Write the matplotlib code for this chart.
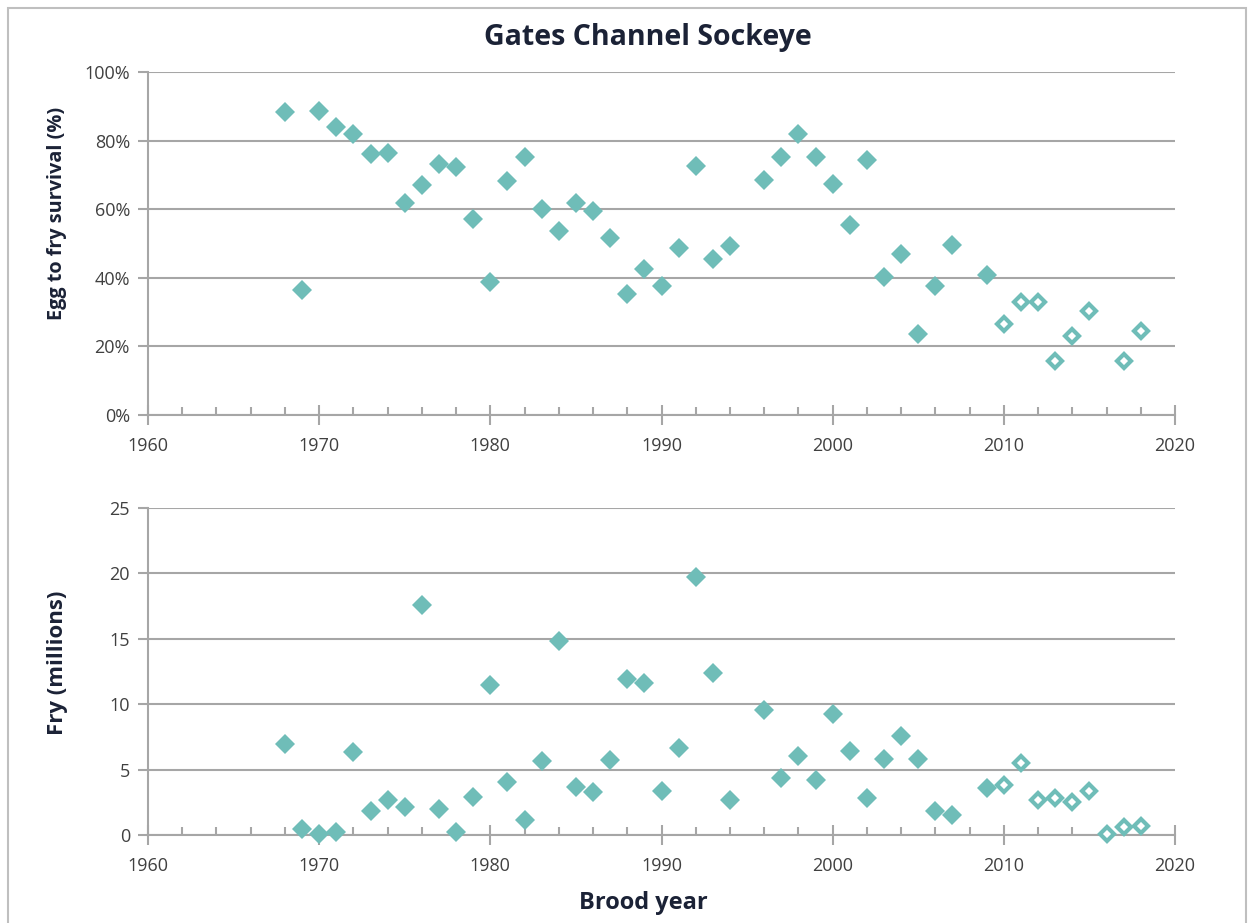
import matplotlib
matplotlib.use("Agg")
import matplotlib.pyplot as plt
from matplotlib.ticker import MultipleLocator, FuncFormatter
from matplotlib.patches import Rectangle

# ---- data ----
years_surv = [1968, 1969, 1970, 1971, 1972, 1973, 1974, 1975, 1976, 1977, 1978, 1979,
              1980, 1981, 1982, 1983, 1984, 1985, 1986, 1987, 1988, 1989, 1990, 1991,
              1992, 1993, 1994, 1996, 1997, 1998, 1999, 2000, 2001, 2002, 2003, 2004,
              2005, 2006, 2007, 2009]
surv = [88.3, 36.4, 88.6, 84.0, 82.0, 76.0, 76.5, 61.8, 67.0, 73.2, 72.3, 57.0,
        38.8, 68.2, 75.2, 60.0, 53.6, 61.8, 59.5, 51.5, 35.3, 42.6, 37.6, 48.7,
        72.6, 45.5, 49.3, 68.5, 75.2, 82.0, 75.2, 67.3, 55.4, 74.3, 40.2, 46.9,
        23.6, 37.6, 49.6, 40.8]
years_surv_open = [2010, 2011, 2012, 2013, 2014, 2015, 2017, 2018]
surv_open = [26.5, 32.9, 32.9, 15.7, 23.0, 30.3, 15.7, 24.5]

years_fry = [1968, 1969, 1970, 1971, 1972, 1973, 1974, 1975, 1976, 1977, 1978, 1979,
             1980, 1981, 1982, 1983, 1984, 1985, 1986, 1987, 1988, 1989, 1990, 1991,
             1992, 1993, 1994, 1996, 1997, 1998, 1999, 2000, 2001, 2002, 2003, 2004,
             2005, 2006, 2007, 2009]
fry = [6.95, 0.45, 0.1, 0.25, 6.35, 1.8, 2.65, 2.15, 17.6, 1.95, 0.2, 2.9,
       11.5, 4.05, 1.15, 5.65, 14.8, 3.65, 3.3, 5.7, 11.95, 11.65, 3.35, 6.65,
       19.7, 12.4, 2.7, 9.55, 4.35, 6.05, 4.2, 9.25, 6.4, 2.8, 5.8, 7.6,
       5.8, 1.85, 1.55, 3.6]
years_fry_open = [2010, 2011, 2012, 2013, 2014, 2015, 2016, 2017, 2018]
fry_open = [3.8, 5.5, 2.7, 2.8, 2.5, 3.35, 0.1, 0.6, 0.7]

title = "Gates Channel Sockeye"
ylabel_top = "Egg to fry survival (%)"
ylabel_bot = "Fry (millions)"
xlabel = "Brood year"

# ---- style ----
TEAL = "#6fbdb8"
GRID = "#a6a6a6"
DARK = "#1b2236"
TICKC = "#404040"
plt.rcParams['font.family'] = ['Open Sans', 'DejaVu Sans']

fig = plt.figure(figsize=(12.5, 9.23), dpi=100)
W, H = 1250, 923

def ax_rect(l, t, r, b):
    return [l / W, 1 - b / H, (r - l) / W, (b - t) / H]

ax1 = fig.add_axes(ax_rect(148, 72, 1175, 415))
ax2 = fig.add_axes(ax_rect(148, 508, 1175, 835))

def style(ax, ymax, ystep, fmt):
    ax.set_xlim(1960, 2020)
    ax.set_ylim(0, ymax)
    ax.yaxis.set_major_locator(MultipleLocator(ystep))
    ax.yaxis.set_major_formatter(FuncFormatter(fmt))
    ax.xaxis.set_major_locator(MultipleLocator(10))
    ax.xaxis.set_minor_locator(MultipleLocator(2))
    for s in ['top', 'right']:
        ax.spines[s].set_visible(False)
    for s in ['left', 'bottom']:
        ax.spines[s].set_color(GRID)
        ax.spines[s].set_linewidth(1.5)
    ax.grid(axis='y', color=GRID, linewidth=1.5)
    ax.set_axisbelow(True)
    ax.tick_params(axis='y', direction='out', length=7, width=1.5, color=GRID,
                   labelsize=13, labelcolor=TICKC, pad=6)
    ax.tick_params(axis='x', which='major', direction='inout', length=14, width=1.5,
                   color=GRID, labelsize=13, labelcolor=TICKC, pad=9)
    ax.tick_params(axis='x', which='minor', direction='in', length=6, width=1.5,
                   color=GRID)

style(ax1, 100, 20, lambda v, p: f"{int(v)}%")
style(ax2, 25, 5, lambda v, p: f"{int(v)}")

ms = 9.8
ms_o, mew_o = 7.2, 3.0
ax1.plot(years_surv, surv, linestyle='none', marker='D', ms=ms, color=TEAL,
         markeredgewidth=0, clip_on=False, zorder=3)
ax1.plot(years_surv_open, surv_open, linestyle='none', marker='D', ms=ms_o,
         markerfacecolor='white', markeredgecolor=TEAL, markeredgewidth=mew_o,
         clip_on=False, zorder=3)
ax2.plot(years_fry, fry, linestyle='none', marker='D', ms=ms, color=TEAL,
         markeredgewidth=0, clip_on=False, zorder=3)
ax2.plot(years_fry_open, fry_open, linestyle='none', marker='D', ms=ms_o,
         markerfacecolor='white', markeredgecolor=TEAL, markeredgewidth=mew_o,
         clip_on=False, zorder=3)

lab_kw = dict(fontweight='bold', color=DARK, ha='center', va='center')
fig.text(57 / W, 1 - 213 / H, ylabel_top, fontsize=14.3, rotation=90, **lab_kw)
fig.text(57 / W, 1 - 663 / H, ylabel_bot, fontsize=16, rotation=90, **lab_kw)
fig.text(643 / W, 1 - 903 / H, xlabel, fontsize=17, **lab_kw)
fig.text(648 / W, 1 - 38 / H, title, fontsize=20.5, **lab_kw)

# figure frame
fig.patches.append(Rectangle((8 / W, -0.01), (1246 - 8) / W, (923 - 8) / H + 0.01,
                             transform=fig.transFigure, fill=False,
                             edgecolor="#bfbfbf", linewidth=1.5))

fig.savefig("out.png", dpi=100)
